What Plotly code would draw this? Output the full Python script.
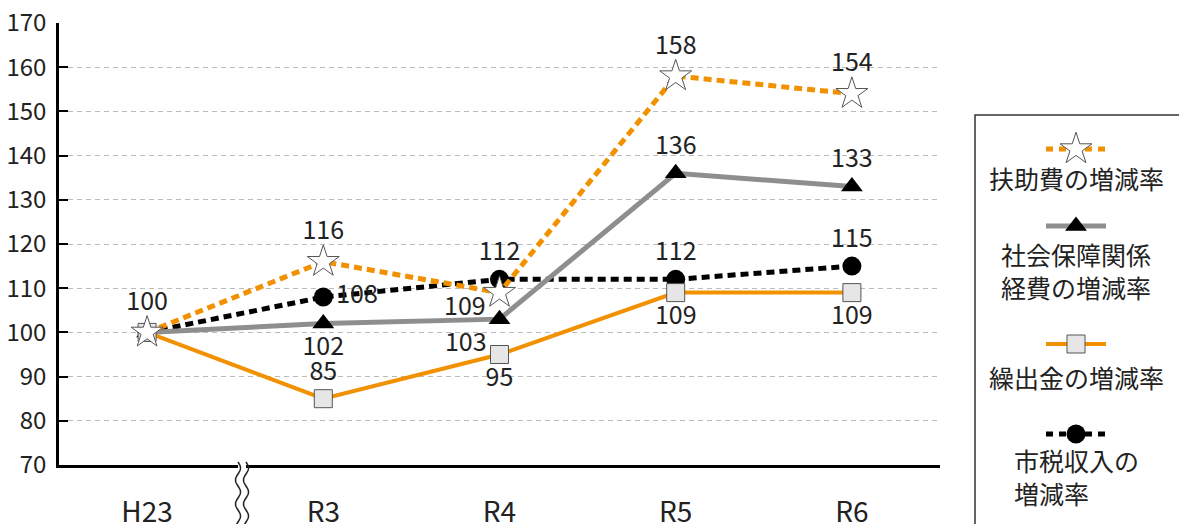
import plotly.graph_objects as go
import math

# ---------------- data ----------------
categories = ["H23", "R3", "R4", "R5", "R6"]
fujo = [100, 116, 109, 158, 154]          # 扶助費の増減率
shakai = [100, 102, 103, 136, 133]        # 社会保障関係経費の増減率
kuridashi = [100, 85, 95, 109, 109]       # 繰出金の増減率
shizei = [100, 108, 112, 112, 115]        # 市税収入の増減率
y_ticks = [70, 80, 90, 100, 110, 120, 130, 140, 150, 160, 170]

fujo_lbl = ["100", "116", "", "158", "154"]   # R4 label placed as annotation below
shakai_lbl = ["", "102", "103", "136", "133"]
kuri_lbl = ["", "85", "95", "109", "109"]
shizei_lbl = ["", "108", "112", "112", "115"]

legend_names = ["扶助費の増減率", "社会保障関係<br>経費の増減率", "繰出金の増減率", "市税収入の<br>増減率"]

# ---------------- styles ----------------
W, H = 1179, 524
FONT = "Noto Sans CJK JP"
ORANGE = "#F29100"
GRAY = "#8E8E8E"
TXT = "#222222"
LBL = 25

PL, PR, PT, PB = 59, 940, 23, 465
PW = W - PL          # paper width (right margin 0)
PH = PB - PT         # paper height

def px(x):
    return (x - PL) / PW

def py(y):
    return (PB - y) / PH

fig = go.Figure()

# order: bottom to top
fig.add_trace(go.Scatter(
    x=categories, y=shizei, mode="lines+markers+text", text=shizei_lbl,
    textposition=["top center", "middle right", "top center", "top center", "top center"],
    line=dict(color="black", width=5, dash="8px,5px"),
    marker=dict(symbol="circle", size=19, color="black"),
    textfont=dict(family=FONT, size=LBL, color=TXT), cliponaxis=False, showlegend=False))

fig.add_trace(go.Scatter(
    x=categories, y=shakai, mode="lines+markers+text", text=shakai_lbl,
    textposition=["top center", "bottom center", "bottom left", "top center", "top center"],
    line=dict(color=GRAY, width=5),
    marker=dict(symbol="triangle-up", size=19, color="black"),
    textfont=dict(family=FONT, size=LBL, color=TXT), cliponaxis=False, showlegend=False))

fig.add_trace(go.Scatter(
    x=categories, y=kuridashi, mode="lines+markers+text", text=kuri_lbl,
    textposition=["top center", "top center", "bottom center", "bottom center", "bottom center"],
    line=dict(color=ORANGE, width=4),
    marker=dict(symbol="square", size=18, color="#E6E6E6", line=dict(color="#555555", width=1)),
    textfont=dict(family=FONT, size=LBL, color=TXT), cliponaxis=False, showlegend=False))

fig.add_trace(go.Scatter(
    x=categories, y=fujo, mode="lines+markers+text", text=fujo_lbl,
    textposition=["top center", "top center", "middle left", "top center", "top center"],
    line=dict(color=ORANGE, width=5, dash="8px,5px"),
    marker=dict(symbol="star", size=24, color="white", line=dict(color="#555555", width=1)),
    textfont=dict(family=FONT, size=LBL, color=TXT), cliponaxis=False, showlegend=False))

annotations = []
# R4 label of 扶助費, slightly left of and below its marker
annotations.append(dict(x=categories[2], y=fujo[2], xref="x", yref="y", text=str(fujo[2]),
                        showarrow=False, xanchor="right", yanchor="middle",
                        xshift=-12, yshift=-11,
                        font=dict(family=FONT, size=LBL, color=TXT)))

# ---------------- legend (manual, on its own pixel axes) ----------------
LX0, LX1, LY0, LY1 = 975, 1179, 115, 524
leg_cx = 1076
leg_sample_y = [149, 226, 344, 434]
leg_text_y = [178, 270, 377, 477]
leg_styles = [
    dict(line=dict(color=ORANGE, width=5, dash="7px,6px"),
         marker=dict(symbol="star", size=24, color="white", line=dict(color="#555555", width=1))),
    dict(line=dict(color=GRAY, width=5),
         marker=dict(symbol="triangle-up", size=19, color="black")),
    dict(line=dict(color=ORANGE, width=4),
         marker=dict(symbol="square", size=18, color="#E6E6E6", line=dict(color="#555555", width=1))),
    dict(line=dict(color="black", width=5, dash="7px,6px"),
         marker=dict(symbol="circle", size=19, color="black")),
]
for sy, st in zip(leg_sample_y, leg_styles):
    fig.add_trace(go.Scatter(x=[leg_cx - 30, leg_cx + 30], y=[sy, sy], mode="lines",
                             line=st["line"], xaxis="x2", yaxis="y2", showlegend=False,
                             hoverinfo="skip"))
    fig.add_trace(go.Scatter(x=[leg_cx], y=[sy], mode="markers", marker=st["marker"],
                             xaxis="x2", yaxis="y2", showlegend=False, hoverinfo="skip"))

for ty, name in zip(leg_text_y, legend_names):
    annotations.append(dict(
        x=px(leg_cx), y=py(ty), xref="paper", yref="paper", text=name, showarrow=False,
        xanchor="center", yanchor="middle", align="left",
        font=dict(family=FONT, size=25, color=TXT)))

shapes = []
# legend frame
shapes.append(dict(type="rect", xref="paper", yref="paper",
                   x0=px(LX0), x1=px(LX1 + 5), y0=py(LY1 + 5), y1=py(LY0),
                   line=dict(color="#333333", width=1.5), fillcolor="rgba(0,0,0,0)"))

# axis break (double wavy line)
shapes.append(dict(type="rect", xref="paper", yref="paper",
                   x0=px(238), x1=px(246), y0=py(470), y1=py(460),
                   line=dict(width=0), fillcolor="white", layer="above"))
for bx in (238, 246):
    pts = []
    yy = 462.0
    while yy <= 526:
        xx = bx + 2.5 * math.sin(2 * math.pi * (yy - 462) / 24.0)
        pts.append((px(xx), py(yy)))
        yy += 1.0
    path = "M " + " L ".join(f"{a:.5f},{b:.5f}" for a, b in pts)
    shapes.append(dict(type="path", xref="paper", yref="paper", path=path,
                       line=dict(color="#222222", width=1.5), layer="above"))

fig.update_layout(
    width=W, height=H,
    margin=dict(l=PL, r=0, t=PT, b=H - PB, autoexpand=False),
    paper_bgcolor="white", plot_bgcolor="white",
    font=dict(family=FONT, color=TXT),
    xaxis=dict(domain=[0, px(PR)], type="category", range=[-0.5, 4.5],
               showgrid=False, showline=True, linecolor="black", linewidth=2.5,
               ticks="", tickfont=dict(family=FONT, size=28, color=TXT),
               ticklabelstandoff=21, anchor="y", zeroline=False, automargin=False),
    yaxis=dict(domain=[0, 1], range=[70, 170], tickvals=y_ticks,
               showgrid=True, gridcolor="#BBBBBB", griddash="5px,4px", gridwidth=1,
               showline=True, linecolor="black", linewidth=2.5,
               ticks="inside", ticklen=9, tickwidth=2, tickcolor="black",
               tickfont=dict(family=FONT, size=24, color=TXT),
               ticklabelstandoff=5, anchor="x", zeroline=False, automargin=False),
    xaxis2=dict(domain=[px(LX0), 1], range=[LX0, LX1], visible=False, anchor="y2", fixedrange=True),
    yaxis2=dict(domain=[0, 1], range=[PB, PT], visible=False, anchor="x2", fixedrange=True),
    annotations=annotations,
    shapes=shapes,
    showlegend=False,
)

fig.write_html("out.html", config={"displayModeBar": False},
               post_script="document.body.style.margin='0px';document.body.style.overflow='hidden';")
